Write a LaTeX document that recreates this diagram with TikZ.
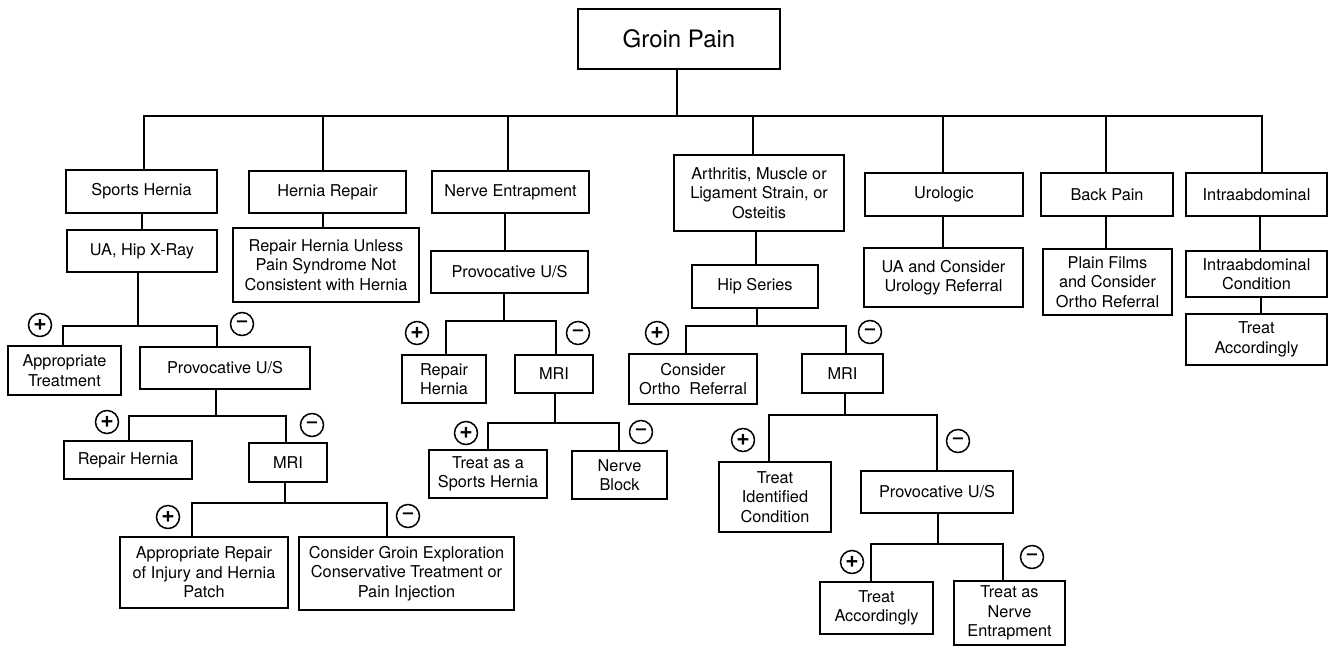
\documentclass[tikz,border=0pt]{standalone}
\usepackage{fontspec}
\setmainfont{TeX Gyre Heros}
\begin{document}
\begin{tikzpicture}[x=1pt,y=-1pt,
  box/.style={draw, line width=1.7pt, inner sep=0pt, align=center, font=\fontsize{16.3}{19.6}\selectfont},
  wire/.style={line width=1.7pt},
  pm/.style={draw, circle, line width=1.5pt, minimum size=23pt, inner sep=0pt},
  plus/.style={pm, font=\bfseries\fontsize{23}{23}\selectfont},
  minus/.style={pm, font=\bfseries\fontsize{18}{18}\selectfont}]
\useasboundingbox (0,0) rectangle (1329,646);
\newcommand\bx[6]{\node[box, minimum width={(#4-#2)*1pt}, minimum height={(#5-#3)*1pt}] (#1) at ({(#2+#4)/2},{(#3+#5)/2}) {#6};}
% boxes
\node[box, minimum width=202pt, minimum height=60pt, font=\fontsize{24}{28}\selectfont] (root) at (679,39) {Groin Pain};
\bx{sh}{66}{170}{217}{213}{Sports Hernia}
\bx{ua}{67}{230}{217}{272}{UA, Hip X-Ray}
\bx{at}{8}{346}{121}{395}{Appropriate\\Treatment}
\bx{pv1}{140}{347}{310}{389}{Provocative U/S}
\bx{rh1}{64}{441}{192}{479}{Repair Hernia}
\bx{mri1}{249}{443}{327}{482}{MRI}
\bx{ar}{120}{537}{288}{608}{Appropriate Repair\\of Injury and Hernia\\Patch}
\bx{cg}{299}{537}{514}{610}{Consider Groin Exploration\\Conservative Treatment or\\Pain Injection}
\bx{hr}{249}{171}{406}{213}{Hernia Repair}
\bx{rhu}{233}{228}{419}{302}{Repair Hernia Unless\\Pain Syndrome Not\\Consistent with Hernia}
\bx{ne}{432}{171}{589}{213}{Nerve Entrapment}
\bx{pv2}{431}{251}{588}{293}{Provocative U/S}
\bx{rh2}{402}{355}{486}{403}{Repair\\Hernia}
\bx{mri2}{515}{355}{593}{393}{MRI}
\bx{ts}{429}{450}{547}{498}{Treat as a\\Sports Hernia}
\bx{nb}{572}{451}{667}{499}{Nerve\\Block}
\bx{ams}{674}{155}{844}{231}{Arthritis, Muscle or\\Ligament Strain, or\\Osteitis}
\bx{hs}{692}{265}{818}{308}{Hip Series}
\bx{cor}{629}{354}{757}{404}{Consider\\Ortho\ \ Referral}
\bx{mri3}{802}{354}{883}{393}{MRI}
\bx{tic}{719}{462}{831}{532}{Treat\\Identified\\Condition}
\bx{pv3}{861}{471}{1013}{513}{Provocative U/S}
\bx{ta1}{820}{582}{933}{634}{Treat\\Accordingly}
\bx{tne}{954}{581}{1065}{645}{Treat as\\Nerve\\Entrapment}
\bx{uro}{865}{173}{1023}{216}{Urologic}
\bx{uac}{864}{248}{1023}{307}{UA and Consider\\Urology Referral}
\bx{bp}{1041}{173}{1173}{216}{Back Pain}
\bx{pf}{1043}{249}{1172}{315}{Plain Films\\and Consider\\Ortho Referral}
\bx{ia}{1186}{173}{1327}{216}{Intraabdominal}
\bx{iac}{1186}{251}{1327}{297}{Intraabdominal\\Condition}
\bx{ta2}{1186}{314}{1327}{365}{Treat\\Accordingly}
% top bus
\draw[wire] (root.south -| 677,0) -- (677,116);
\draw[wire] (sh.north -| 144,0) -- (144,116) -- (1262,116) -- (ia.north -| 1262,0);
\foreach \n/\x in {hr/323, ne/508, ams/753, uro/943, bp/1106}
  \draw[wire] (\n.north -| \x,0) -- (\x,116);
% single links
\draw[wire] (sh.south -| 142,0) -- (ua.north -| 142,0);
\draw[wire] (hr.south -| 323,0) -- (rhu.north -| 323,0);
\draw[wire] (ne.south -| 505,0) -- (pv2.north -| 505,0);
\draw[wire] (ams.south -| 756,0) -- (hs.north -| 756,0);
\draw[wire] (uro.south -| 943,0) -- (uac.north -| 943,0);
\draw[wire] (bp.south -| 1106,0) -- (pf.north -| 1106,0);
\draw[wire] (ia.south -| 1260,0) -- (iac.north -| 1260,0);
\draw[wire] (iac.south -| 1261,0) -- (ta2.north -| 1261,0);
% splits
\draw[wire] (ua.south -| 138,0) -- (138,326);
\draw[wire] (at.north -| 63,0) -- (63,326) -- (217,326) -- (pv1.north -| 217,0);
\draw[wire] (pv1.south -| 216,0) -- (216,416);
\draw[wire] (rh1.north -| 129,0) -- (129,416) -- (286,416) -- (mri1.north -| 286,0);
\draw[wire] (mri1.south -| 285,0) -- (285,503);
\draw[wire] (ar.north -| 192,0) -- (192,503) -- (387,503) -- (cg.north -| 387,0);
\draw[wire] (pv2.south -| 504,0) -- (504,321);
\draw[wire] (rh2.north -| 446,0) -- (446,321) -- (556,321) -- (mri2.north -| 556,0);
\draw[wire] (mri2.south -| 555,0) -- (555,423);
\draw[wire] (ts.north -| 488,0) -- (488,423) -- (619,423) -- (nb.north -| 619,0);
\draw[wire] (hs.south -| 757,0) -- (757,326);
\draw[wire] (cor.north -| 686,0) -- (686,326) -- (846,326) -- (mri3.north -| 846,0);
\draw[wire] (mri3.south -| 845,0) -- (845,415);
\draw[wire] (tic.north -| 769,0) -- (769,415) -- (937,415) -- (pv3.north -| 937,0);
\draw[wire] (pv3.south -| 938,0) -- (938,544);
\draw[wire] (ta1.north -| 871,0) -- (871,544) -- (1003,544) -- (tne.north -| 1003,0);
% plus / minus markers
\node[plus] (p1) at (40,325) {+};   \node[minus] (m1) at (242,324) {–};
\node[plus] (p2) at (107,422) {+};  \node[minus] (m2) at (312,425) {–};
\node[plus] (p3) at (168,517) {+};  \node[minus] (m3) at (408,516) {–};
\node[plus] (p4) at (417,333) {+};  \node[minus] (m4) at (578,333) {–};
\node[plus] (p5) at (466,433) {+};  \node[minus] (m5) at (641,432) {–};
\node[plus] (p6) at (657,333) {+};  \node[minus] (m6) at (870,332) {–};
\node[plus] (p7) at (743,440) {+};  \node[minus] (m7) at (958,441) {–};
\node[plus] (p8) at (852,562) {+};  \node[minus] (m8) at (1032,557) {–};
\end{tikzpicture}
\end{document}
